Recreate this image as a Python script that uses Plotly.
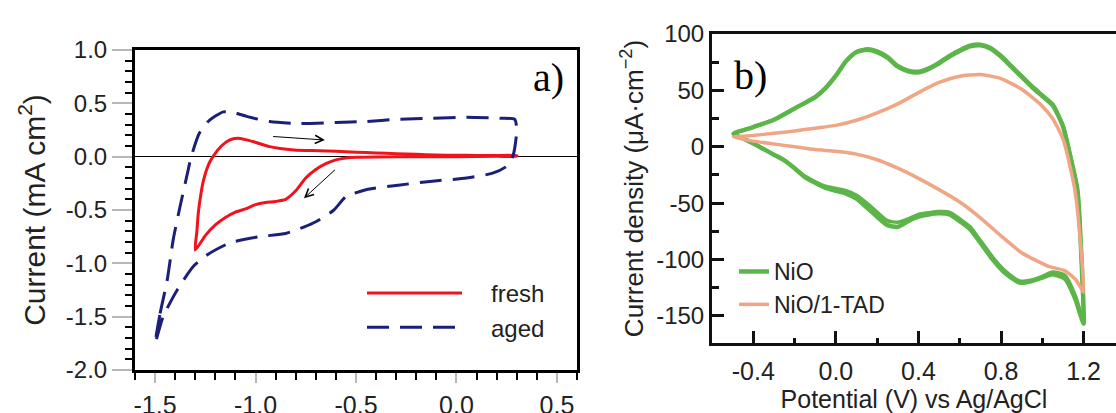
import plotly.graph_objects as go

# ---------------- panel a) data ----------------
fresh_x = [-1.30, -1.292, -1.285, -1.272, -1.26, -1.245, -1.228, -1.205, -1.17, -1.13, -1.09, -1.05, -1.01,
           -0.93, -0.81, -0.68, -0.60, -0.50, -0.40, -0.30, -0.20, -0.10, 0.00, 0.10, 0.20, 0.30,
           0.30, 0.20, 0.00, -0.20, -0.40, -0.50, -0.55, -0.60, -0.65, -0.70, -0.75, -0.80, -0.85,
           -0.90, -0.95, -1.00, -1.05, -1.10, -1.15, -1.20, -1.25, -1.30]
fresh_y = [-0.875, -0.70, -0.53, -0.35, -0.23, -0.13, -0.05, 0.02, 0.10, 0.155, 0.172, 0.16, 0.14,
           0.094, 0.063, 0.056, 0.05, 0.042, 0.035, 0.028, 0.022, 0.016, 0.013, 0.012, 0.011, 0.01,
           0.005, 0.003, 0.0, 0.0, -0.002, -0.005, -0.012, -0.03, -0.065, -0.12, -0.20, -0.32, -0.40,
           -0.42, -0.43, -0.45, -0.49, -0.52, -0.57, -0.64, -0.74, -0.875]

aged_x = [-1.50, -1.475, -1.44, -1.41, -1.376, -1.343, -1.32, -1.28, -1.23, -1.16, -1.10, -1.04, -0.93,
          -0.78, -0.60, -0.45, -0.30, -0.12, 0.05, 0.22, 0.29, 0.30, 0.29, 0.28, 0.25, 0.18, 0.05,
          -0.12, -0.28, -0.45, -0.55, -0.61, -0.70, -0.76, -0.85, -0.98, -1.13, -1.24, -1.31, -1.39,
          -1.46, -1.50]
aged_y = [-1.75, -1.47, -1.16, -0.78, -0.47, -0.19, 0.0, 0.22, 0.34, 0.42, 0.41, 0.375, 0.33,
          0.31, 0.32, 0.33, 0.35, 0.36, 0.37, 0.36, 0.35, 0.25, 0.08, 0.0, -0.09, -0.155, -0.20,
          -0.23, -0.265, -0.31, -0.375, -0.50, -0.61, -0.66, -0.72, -0.75, -0.81, -0.92, -1.03, -1.25,
          -1.50, -1.75]

a_xticks = [-1.5, -1.0, -0.5, 0.0, 0.5]
a_yticks = [1.0, 0.5, 0.0, -0.5, -1.0, -1.5, -2.0]

# ---------------- panel b) data ----------------
nio_x = [-0.496, -0.4, -0.3, -0.2, -0.1, -0.05, 0.0, 0.05, 0.1, 0.15, 0.2, 0.25, 0.3, 0.35, 0.4,
         0.45, 0.5, 0.55, 0.6, 0.65, 0.7, 0.75, 0.8, 0.85, 0.9, 0.95, 1.0, 1.05, 1.1, 1.14, 1.17,
         1.19, 1.2,
         1.19, 1.16, 1.11, 1.05, 1.0, 0.95, 0.89, 0.82, 0.76, 0.7, 0.65, 0.6, 0.55, 0.5, 0.45, 0.4,
         0.35, 0.3, 0.25, 0.2, 0.15, 0.1, 0.05, 0.0, -0.05, -0.1, -0.15, -0.2, -0.25, -0.3, -0.35,
         -0.4, -0.45, -0.496]
nio_y = [11.5, 17.5, 24, 34, 44, 52, 63, 76, 84, 86, 84, 79, 71, 67, 66, 69, 74, 80, 85, 89, 90,
         87, 80, 71, 62, 53, 45, 37, 18, -12, -38, -100, -157,
         -152, -135, -117, -113, -116, -119, -120.5, -112, -100, -85, -73, -66, -60, -59, -60, -62,
         -66, -71, -69.5, -62, -54, -46, -41.5, -39, -36.5, -32, -27, -19, -12, -7, -2, 3, 7.5, 11.5]
# second voltammetric cycle of NiO (slightly shifted in the cathodic branch)
nio2_y = [11.5, 17.5, 24, 34, 44, 52, 63, 76, 84, 87, 85, 80, 72, 68, 67, 70, 75, 81, 86, 90, 91,
          88, 81, 72, 63, 54, 46, 38, 19, -11, -38, -100, -157,
          -150, -132, -114, -111, -115, -118, -119, -110, -98, -83, -71, -64, -58, -57.5, -58.5, -60,
          -64, -67, -65.5, -58, -50, -43, -39, -37, -35, -31, -26, -19, -12, -7, -2, 3, 7.5, 11.5]

tad_x = [-0.496, -0.4, -0.3, -0.2, -0.1, 0.0, 0.1, 0.2, 0.3, 0.4, 0.5, 0.6, 0.7, 0.8, 0.9, 0.95,
         1.0, 1.05, 1.1, 1.14, 1.16, 1.185, 1.2,
         1.19, 1.16, 1.11, 1.03, 0.95, 0.9, 0.8, 0.7, 0.6, 0.5, 0.4, 0.3, 0.2, 0.1, 0.0, -0.1,
         -0.2, -0.3, -0.4, -0.496]
tad_y = [8.5, 10, 12, 14, 16.5, 19, 23.5, 30, 38, 48, 57, 62.5, 64, 60.5, 51, 44, 36, 25, 7, -22,
         -41, -85, -129,
         -126, -117.5, -110, -106, -99, -94, -79, -63, -49, -38, -28, -19, -11.5, -6.5, -4, -2.5,
         0, 2.5, 5, 8.5]

b_xticks = [-0.4, 0.0, 0.4, 0.8, 1.2]
b_yticks = [100, 50, 0, -50, -100, -150]

W, H = 1116, 413
RED = "#f2121b"
NAVY = "#1c1f7a"
GREEN = "#5cb548"
SALMON = "#f0a584"
FONT = "Liberation Sans, Arial, sans-serif"
SERIF = "Liberation Serif, Times New Roman, serif"

fig = go.Figure()

fig.add_trace(go.Scatter(x=fresh_x, y=fresh_y, mode="lines", name="\u2002\u2002fresh",
                         line=dict(color=RED, width=3, shape="spline", smoothing=0.6),
                         xaxis="x", yaxis="y", legend="legend"))
fig.add_trace(go.Scatter(x=aged_x, y=aged_y, mode="lines", name="\u2002\u2002aged",
                         line=dict(color=NAVY, width=3, dash="22px,11px", shape="spline", smoothing=0.6),
                         xaxis="x", yaxis="y", legend="legend"))

fig.add_trace(go.Scatter(x=nio_x, y=nio2_y, mode="lines", name="NiO cycle 2", showlegend=False,
                         line=dict(color=GREEN, width=3.5, shape="spline", smoothing=0.6),
                         xaxis="x2", yaxis="y2"))
fig.add_trace(go.Scatter(x=nio_x, y=nio_y, mode="lines", name="NiO",
                         line=dict(color=GREEN, width=4.5, shape="spline", smoothing=0.6),
                         xaxis="x2", yaxis="y2", legend="legend2"))
fig.add_trace(go.Scatter(x=tad_x, y=tad_y, mode="lines", name="NiO/1-TAD",
                         line=dict(color=SALMON, width=3.5, shape="spline", smoothing=0.6),
                         xaxis="x2", yaxis="y2", legend="legend2"))

ax_a = dict(showline=True, linewidth=3, linecolor="black", mirror=True, showgrid=False,
            ticks="outside", tickcolor="#b8b8b8", tickwidth=1.5, automargin=False,
            zeroline=False)

fig.update_layout(
    width=W, height=H, margin=dict(l=0, r=0, t=0, b=0, pad=0, autoexpand=False),
    paper_bgcolor="white", plot_bgcolor="white",
    font=dict(family=FONT, color="#222"),
    xaxis=dict(ax_a, domain=[135 / W, 577 / W], range=[-1.6, 0.6], tickvals=a_xticks,
               ticktext=[f"{v:.1f}" for v in a_xticks],
               tickfont=dict(family=FONT, size=25, color="#222"),
               ticklen=10, ticklabelstandoff=1,
               minor=dict(dtick=0.1, ticks="outside", ticklen=7, tickcolor="black", tickwidth=1.5),
               anchor="y"),
    yaxis=dict(ax_a, domain=[1 - 370 / H, 1 - 50 / H], range=[-2.0, 1.0], tickvals=a_yticks,
               ticktext=[f"{v:.1f}" for v in a_yticks],
               tickfont=dict(family=FONT, size=24, color="#222"),
               ticklen=20,
               minor=dict(dtick=0.1, ticks="outside", ticklen=7, tickcolor="black", tickwidth=1.5),
               zeroline=True, zerolinecolor="black", zerolinewidth=1.2,
               title=dict(text="Current (mA cm<sup>2</sup>)", font=dict(family=FONT, size=30, color="#222"),
                          standoff=12),
               anchor="x"),
    xaxis2=dict(domain=[712 / W, 1.0], range=[-0.6, 1.357], tickvals=b_xticks,
                ticktext=[f"{v:.1f}" for v in b_xticks], automargin=False,
                showline=True, linewidth=3, linecolor="#111", mirror=True, showgrid=False, zeroline=False,
                ticks="inside", ticklen=12, tickwidth=3, tickcolor="#111",
                minor=dict(tickvals=[-0.2, 0.2, 0.6, 1.0], ticks="inside", ticklen=5, tickwidth=3, tickcolor="#111"),
                tickfont=dict(family=FONT, size=25, color="#222"), ticklabelstandoff=4,
                title=dict(text="Potential (V) vs Ag/AgCl", font=dict(family=FONT, size=25, color="#222"),
                           standoff=6),
                anchor="y2"),
    yaxis2=dict(domain=[1 - 343 / H, 1 - 34 / H], range=[-174, 100], tickvals=b_yticks,
                ticktext=[f"{v:d}" for v in b_yticks], automargin=False,
                showline=True, linewidth=3, linecolor="#111", mirror=False, showgrid=False, zeroline=False,
                ticks="inside", ticklen=12, tickwidth=3, tickcolor="#111",
                minor=dict(dtick=25, ticks="inside", ticklen=7, tickwidth=3, tickcolor="#111"),
                tickfont=dict(family=FONT, size=24, color="#222"),
                title=dict(text="Current density (μA·cm<sup>−2</sup>)", font=dict(family=FONT, size=26, color="#222"),
                           standoff=6),
                anchor="x2"),
    legend=dict(x=362 / W, y=1 - 271 / H, xanchor="left", yanchor="top", bgcolor="rgba(0,0,0,0)",
                font=dict(family=FONT, size=24, color="#222"), itemwidth=95, tracegroupgap=0,
                itemclick=False),
    legend2=dict(x=734 / W, y=1 - 250 / H, xanchor="left", yanchor="top", bgcolor="rgba(0,0,0,0)",
                 font=dict(family=FONT, size=23, color="#222"), itemwidth=30, tracegroupgap=0),
    showlegend=True,
)

fig.add_annotation(text="a)", xref="paper", yref="paper", x=548 / W, y=1 - 78 / H,
                   xanchor="center", yanchor="middle",
                   showarrow=False, font=dict(family=SERIF, size=40, color="black"))
fig.add_annotation(text="b)", xref="paper", yref="paper", x=750 / W, y=1 - 75 / H,
                   xanchor="center", yanchor="middle",
                   showarrow=False, font=dict(family=SERIF, size=40, color="black"))

# scan-direction arrows
fig.add_annotation(x=-0.655, y=0.156, ax=-0.92, ay=0.19, xref="x", yref="y", axref="x", ayref="y",
                   text="", showarrow=True, arrowhead=5, arrowsize=1.6, arrowwidth=1, arrowcolor="black")
fig.add_annotation(x=-0.759, y=-0.39, ax=-0.597, ay=-0.11, xref="x", yref="y", axref="x", ayref="y",
                   text="", showarrow=True, arrowhead=5, arrowsize=1.6, arrowwidth=1, arrowcolor="black")

fig.write_html("out.html")
